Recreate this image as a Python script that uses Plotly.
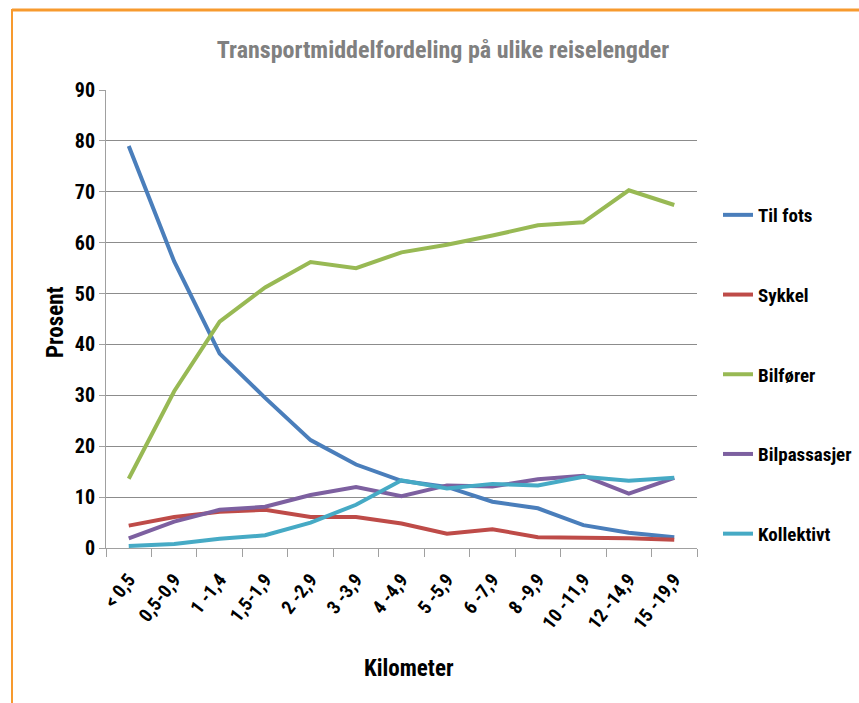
import plotly.graph_objects as go

categories = ["< 0,5", "0,5-0,9", "1 -1,4", "1,5-1,9", "2 -2,9", "3 -3,9", "4 -4,9",
              "5 -5,9", "6 -7,9", "8 -9,9", "10 -11,9", "12 -14,9", "15 -19,9"]
til_fots = [79.0, 56.3, 38.2, 29.5, 21.2, 16.4, 13.2, 12.0, 9.1, 7.8, 4.5, 3.0, 2.1]
sykkel = [4.4, 6.1, 7.1, 7.5, 6.1, 6.1, 4.8, 2.8, 3.7, 2.1, 2.0, 1.9, 1.6]
bilforer = [13.6, 30.8, 44.5, 51.2, 56.2, 55.0, 58.1, 59.6, 61.4, 63.4, 64.0, 70.3, 67.4]
bilpassasjer = [1.9, 5.2, 7.5, 8.1, 10.4, 12.0, 10.2, 12.3, 12.1, 13.5, 14.2, 10.7, 13.8]
kollektivt = [0.4, 0.8, 1.8, 2.5, 5.0, 8.5, 13.3, 11.7, 12.6, 12.3, 14.0, 13.2, 13.8]

series = [
    ("Til fots", til_fots, "#4A7EBB"),
    ("Sykkel", sykkel, "#BE4B48"),
    ("Bilfører", bilforer, "#98B954"),
    ("Bilpassasjer", bilpassasjer, "#7D60A0"),
    ("Kollektivt", kollektivt, "#46AAC5"),
]

FONT = "Liberation Sans Narrow, Roboto Condensed, Liberation Sans, Arial"

fig = go.Figure()
for i, (name, vals, col) in enumerate(series):
    fig.add_trace(go.Scatter(x=categories, y=vals, name=name, mode="lines",
                             line=dict(color=col, width=4), legendgroup=f"g{i}"))

W, H = 859, 703
L, T = 106, 90
R = W - 697
B = H - 548
pw, ph = W - L - R, H - T - B

def px(x):
    return (x - L) / pw

def py(y):
    return (H - B - y) / ph

ORANGE = "#F79A2E"

fig.update_layout(
    width=W, height=H,
    margin=dict(l=L, r=R, t=T, b=B, autoexpand=False),
    paper_bgcolor="white", plot_bgcolor="white",
    font=dict(family=FONT, color="black", size=19),
    title=dict(text="<b>Transportmiddelfordeling på ulike reiselengder</b>",
               x=443 / W, xanchor="center", y=1 - 50 / H, yanchor="middle",
               xref="container", yref="container",
               font=dict(family=FONT, size=24, color="#808080")),
    xaxis=dict(type="category", tickangle=-52, ticks="outside", tickson="boundaries",
               ticklen=8, tickcolor="#A0A0A0", showgrid=False, showline=True,
               linecolor="#A0A0A0", linewidth=1, automargin=False, ticklabelstandoff=12,
               tickfont=dict(family=FONT, size=19, color="black", weight="bold"),
               range=[-0.5, 12.5]),
    yaxis=dict(range=[0, 90], dtick=10, ticks="outside", ticklen=6, tickcolor="#A0A0A0",
               showgrid=True, gridcolor="#8C8C8C", gridwidth=1, showline=True,
               linecolor="#A0A0A0", zeroline=False, automargin=False,
               tickfont=dict(family=FONT, size=20, color="black", weight="bold")),
    legend=dict(x=px(718), xanchor="left", y=py(196), yanchor="top",
                tracegroupgap=52, font=dict(family=FONT, size=19, color="black", weight="bold"),
                bgcolor="rgba(0,0,0,0)", itemwidth=30),
    annotations=[
        dict(text="<b>Kilometer</b>", xref="paper", yref="paper", x=px(409), y=py(668),
             xanchor="center", yanchor="middle", showarrow=False,
             font=dict(family=FONT, size=23, color="black")),
        dict(text="<b>Prosent</b>", xref="paper", yref="paper", x=px(55), y=py(322),
             xanchor="center", yanchor="middle", showarrow=False, textangle=-90,
             font=dict(family=FONT, size=23, color="black")),
    ],
    shapes=[
        dict(type="line", xref="paper", yref="paper", x0=px(12), x1=px(870), y0=py(10), y1=py(10),
             line=dict(color=ORANGE, width=3), layer="below"),
        dict(type="line", xref="paper", yref="paper", x0=px(12), x1=px(12), y0=py(9), y1=py(720),
             line=dict(color=ORANGE, width=2), layer="below"),
    ],
)

fig.write_html("out.html", config={"displayModeBar": False},
               post_script="document.body.style.margin='0';document.body.style.overflow='hidden';")
